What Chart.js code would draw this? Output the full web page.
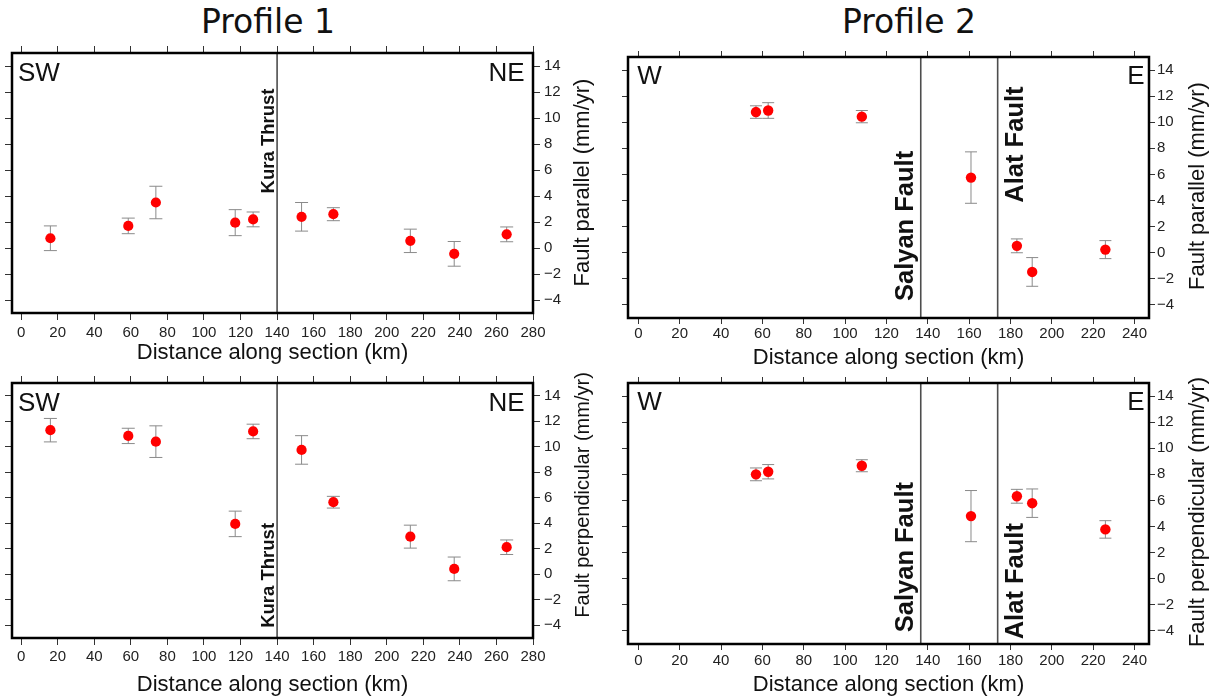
<!DOCTYPE html>
<html>
<head>
<meta charset="utf-8">
<script src="https://cdn.jsdelivr.net/npm/chart.js@4.4.0/dist/chart.umd.min.js"></script>
<style>
  body { margin: 0; background: #fff; width: 1214px; height: 700px; position: relative; overflow: hidden; }
  canvas { position: absolute; }
  .title { position: absolute; top: 5px; font-family: "DejaVu Sans"; font-size: 33px; line-height: 33px;
           color: #111; transform: translateX(-50%); white-space: nowrap; }
</style>
</head>
<body>
<div class="title" style="left:268px">Profile 1</div>
<div class="title" style="left:909px">Profile 2</div>
<canvas id="p1Parallel" width="607" height="330"></canvas>
<canvas id="p2Parallel" width="607" height="330"></canvas>
<canvas id="p1Perp" width="607" height="330"></canvas>
<canvas id="p2Perp" width="607" height="330"></canvas>
<script>
// distance along section (km)
const profile1X = [16, 58.6, 73.7, 117.1, 126.9, 153.4, 170.8, 212.9, 236.9, 265.6];
const profile2X = [56.9, 62.8, 108.1, 160.9, 183.1, 190.5, 225.9];

// velocities (mm/yr) and their errors
const p1Parallel = [0.75, 1.7, 3.5, 1.95, 2.2, 2.4, 2.6, 0.55, -0.45, 1.05];
const p1ParallelErr = [0.95, 0.6, 1.25, 1.0, 0.57, 1.1, 0.5, 0.9, 0.95, 0.57];
const p1Perp = [11.3, 10.85, 10.4, 3.95, 11.2, 9.75, 5.65, 2.95, 0.42, 2.12];
const p1PerpErr = [0.92, 0.6, 1.24, 1.0, 0.57, 1.12, 0.46, 0.9, 0.93, 0.57];

const p2Parallel = [10.78, 10.9, 10.43, 5.76, 0.53, -1.47, 0.24];
const p2ParallelErr = [0.48, 0.6, 0.47, 1.97, 0.53, 1.1, 0.69];
const p2Perp = [8.0, 8.2, 8.66, 4.8, 6.32, 5.79, 3.78];
const p2PerpErr = [0.49, 0.55, 0.46, 1.96, 0.53, 1.09, 0.67];

// fault positions (km)
const profile1Faults = [140];
const profile1FaultNames = ['Kura Thrust'];
const profile2Faults = [136.6, 173.8];
const profile2FaultNames = ['Salyan Fault', 'Alat Fault'];

// tick values
const xTicks1 = [0, 20, 40, 60, 80, 100, 120, 140, 160, 180, 200, 220, 240, 260, 280];
const xTicks2 = [0, 20, 40, 60, 80, 100, 120, 140, 160, 180, 200, 220, 240];
const yTicks = [-4, -2, 0, 2, 4, 6, 8, 10, 12, 14];

const FONT = '"Liberation Sans", Arial, sans-serif';

function decor(cfg) {
    return {
        id: 'decor',
        beforeDatasetsDraw(chart) {
            const { ctx, chartArea: a, scales: { x, y } } = chart;
            ctx.save();
            cfg.faults.forEach(f => {
                const px = x.getPixelForValue(f.x);
                ctx.strokeStyle = f.color;
                ctx.lineWidth = f.width;
                ctx.beginPath();
                ctx.moveTo(px, a.top);
                ctx.lineTo(px, a.bottom);
                ctx.stroke();
            });
            ctx.strokeStyle = '#8a8a8a';
            ctx.lineWidth = 1;
            cfg.xs.forEach((xv, i) => {
                const px = x.getPixelForValue(xv);
                const hi = y.getPixelForValue(cfg.ys[i] + cfg.errs[i]);
                const lo = y.getPixelForValue(cfg.ys[i] - cfg.errs[i]);
                const c = cfg.capHalf;
                ctx.beginPath();
                ctx.moveTo(px, hi); ctx.lineTo(px, lo);
                ctx.moveTo(px - c, hi); ctx.lineTo(px + c, hi);
                ctx.moveTo(px - c, lo); ctx.lineTo(px + c, lo);
                ctx.stroke();
            });
            ctx.restore();
        },
        afterDraw(chart) {
            const { ctx, chartArea: a, scales: { x, y } } = chart;
            ctx.save();
            // frame
            ctx.strokeStyle = '#000';
            ctx.lineWidth = 2.5;
            ctx.strokeRect(a.left, a.top, a.right - a.left, a.bottom - a.top);

            ctx.fillStyle = '#111';
            // fault labels
            cfg.faults.forEach(f => {
                ctx.save();
                ctx.translate(x.getPixelForValue(f.x) + f.dx, y.getPixelForValue(f.yStart));
                ctx.rotate(-Math.PI / 2);
                ctx.font = 'bold ' + f.size + 'px ' + FONT;
                ctx.textAlign = 'left';
                ctx.textBaseline = 'alphabetic';
                ctx.fillText(f.label, 0, 0);
                ctx.restore();
            });

            // direction labels
            ctx.font = '26px ' + FONT;
            ctx.textBaseline = 'alphabetic';
            ctx.textAlign = 'left';
            ctx.fillText(cfg.corner[0], a.left + cfg.cornerL, a.top + cfg.cornerBase);
            ctx.textAlign = 'right';
            ctx.fillText(cfg.corner[1], a.right - cfg.cornerR, a.top + cfg.cornerBase);

            // right axis title, reading upward
            ctx.save();
            ctx.translate(cfg.yTitleX - cfg.canvas.left, cfg.yTitleY - cfg.canvas.top);
            ctx.rotate(-Math.PI / 2);
            ctx.font = cfg.yTitleSize + 'px ' + FONT;
            ctx.textAlign = 'center';
            ctx.textBaseline = 'middle';
            ctx.fillText(cfg.yTitle, 0, 0);
            ctx.restore();
            ctx.restore();
        }
    };
}

function makePanel(id, cfg) {
    const el = document.getElementById(id);
    el.style.left = cfg.canvas.left + 'px';
    el.style.top = cfg.canvas.top + 'px';
    const wLeft = cfg.area.l - cfg.canvas.left;
    const hTop = cfg.area.t - cfg.canvas.top;
    const wRight = cfg.canvas.left + el.width - cfg.area.r;
    const hBottom = cfg.canvas.top + el.height - cfg.area.b;

    const grid = { drawOnChartArea: false, drawTicks: true, tickLength: cfg.tickLen, color: '#333', lineWidth: 1 };
    const setTicks = vals => s => { s.ticks = vals.map(v => ({ value: v })); };
    const minus = v => (v < 0 ? '\u2212' + Math.abs(v) : String(v));

    return new Chart(el, {
        type: 'scatter',
        data: {
            datasets: [{
                data: cfg.xs.map((xv, i) => ({ x: xv, y: cfg.ys[i] })),
                backgroundColor: '#ff0000',
                borderWidth: 0,
                pointRadius: cfg.radius,
                pointHoverRadius: cfg.radius
            }]
        },
        options: {
            responsive: false,
            animation: false,
            devicePixelRatio: 1,
            events: [],
            layout: { padding: 0 },
            plugins: { legend: { display: false }, tooltip: { enabled: false } },
            scales: {
                x: {
                    type: 'linear', position: 'bottom', min: -5, max: cfg.xMax,
                    afterBuildTicks: setTicks(cfg.xTicks),
                    ticks: { font: { family: FONT, size: 15 }, color: '#222', padding: cfg.xPad, maxRotation: 0, autoSkip: false },
                    grid: grid,
                    border: { display: false },
                    title: {
                        display: true, text: 'Distance along section (km)', color: '#111',
                        font: { family: FONT, size: 22, lineHeight: 1 },
                        padding: { top: 0, bottom: cfg.titlePad }
                    },
                    afterFit: s => { s.height = hBottom; }
                },
                x2: {
                    type: 'linear', position: 'top', min: -5, max: cfg.xMax,
                    afterBuildTicks: setTicks(cfg.xTicks),
                    ticks: { display: false },
                    grid: grid,
                    border: { display: false },
                    afterFit: s => { s.height = hTop; }
                },
                y: {
                    type: 'linear', position: 'right', min: -5, max: 15,
                    afterBuildTicks: setTicks(yTicks),
                    ticks: { font: { family: FONT, size: 15 }, color: '#222', padding: cfg.yPad, callback: minus },
                    grid: grid,
                    border: { display: false },
                    afterFit: s => { s.width = wRight; }
                },
                y2: {
                    type: 'linear', position: 'left', min: -5, max: 15,
                    afterBuildTicks: setTicks(yTicks),
                    ticks: { display: false },
                    grid: grid,
                    border: { display: false },
                    afterFit: s => { s.width = wLeft; }
                }
            }
        },
        plugins: [decor(cfg)]
    });
}

const kura = (dx, yStart) => profile1Faults.map((f, i) => ({
    x: f, label: profile1FaultNames[i], size: 18.5, color: '#111', width: 1.2, dx: dx, yStart: yStart
}));
const p2Faults = (starts) => profile2Faults.map((f, i) => ({
    x: f, label: profile2FaultNames[i], size: 25.5, color: '#4d4d4d', width: 1.6,
    dx: i === 0 ? -8 : 25, yStart: starts[i]
}));

makePanel('p1Parallel', {
    canvas: { left: 0, top: 40 }, area: { l: 12, t: 52, r: 533, b: 313 },
    xs: profile1X, ys: p1Parallel, errs: p1ParallelErr, xMax: 280, xTicks: xTicks1,
    tickLen: 7, xPad: 4, yPad: 4, titlePad: 6, radius: 5.1, capHalf: 6.5,
    yTitle: 'Fault parallel (mm/yr)', yTitleX: 583, yTitleY: 182.5, yTitleSize: 22,
    corner: ['SW', 'NE'], cornerL: 6, cornerR: 8.5, cornerBase: 27.5,
    faults: kura(-3, 4.2)
});

makePanel('p2Parallel', {
    canvas: { left: 607, top: 40 }, area: { l: 628, t: 57, r: 1149, b: 318 },
    xs: profile2X, ys: p2Parallel, errs: p2ParallelErr, xMax: 247, xTicks: xTicks2,
    tickLen: 6, xPad: 1, yPad: 2, titlePad: 1, radius: 5.2, capHalf: 6,
    yTitle: 'Fault parallel (mm/yr)', yTitleX: 1198, yTitleY: 186, yTitleSize: 22,
    corner: ['W', 'E'], cornerL: 9.3, cornerR: 4.5, cornerBase: 27,
    faults: p2Faults([-3.7, 3.84])
});

makePanel('p1Perp', {
    canvas: { left: 0, top: 370 }, area: { l: 12, t: 378, r: 533, b: 638 },
    xs: profile1X, ys: p1Perp, errs: p1PerpErr, xMax: 280, xTicks: xTicks1,
    tickLen: 7, xPad: 3, yPad: 4, titlePad: 4, radius: 5.1, capHalf: 6.5,
    yTitle: 'Fault perpendicular (mm/yr)', yTitleX: 583, yTitleY: 495, yTitleSize: 20,
    corner: ['SW', 'NE'], cornerL: 6, cornerR: 8.5, cornerBase: 27.5,
    faults: kura(-3, -4.2)
});

makePanel('p2Perp', {
    canvas: { left: 607, top: 370 }, area: { l: 628, t: 383, r: 1149, b: 644 },
    xs: profile2X, ys: p2Perp, errs: p2PerpErr, xMax: 247, xTicks: xTicks2,
    tickLen: 6, xPad: 2, yPad: 2, titlePad: 4, radius: 5.2, capHalf: 6,
    yTitle: 'Fault perpendicular (mm/yr)', yTitleX: 1198, yTitleY: 512, yTitleSize: 22,
    corner: ['W', 'E'], cornerL: 9.3, cornerR: 4.5, cornerBase: 27,
    faults: p2Faults([-4.1, -4.64])
});
</script>
</body>
</html>
